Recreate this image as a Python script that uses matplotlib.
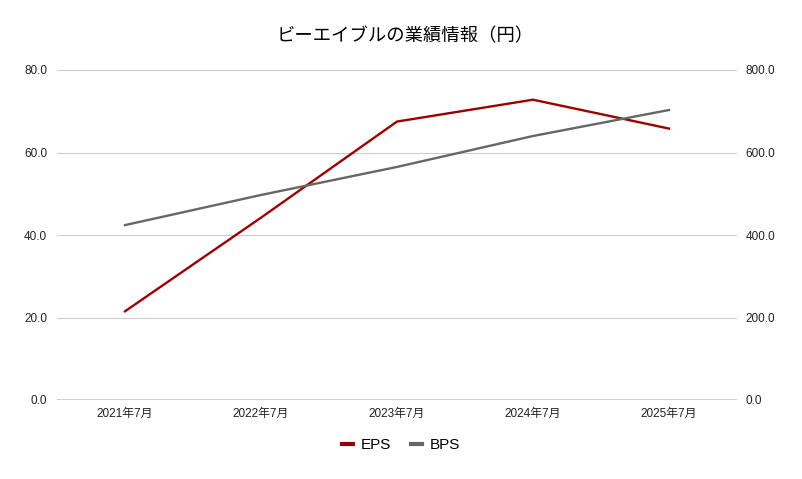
import numpy as np
import matplotlib.pyplot as plt

plt.rcParams['font.family'] = ['Liberation Sans', 'Noto Sans CJK JP', 'DejaVu Sans']

categories = ['2021年7月', '2022年7月', '2023年7月', '2024年7月', '2025年7月']
eps = [21.5, 44.2, 67.5, 72.8, 65.8]
bps = [424, 497, 565, 640, 703]

fig = plt.figure(figsize=(8.02, 4.79), dpi=100)
ax = fig.add_axes([57 / 802, 79 / 479, 680 / 802, 330 / 479])
ax2 = ax.twinx()

x = np.arange(len(categories))
l1, = ax.plot(x, eps, color='#990000', lw=1.7, label='EPS')
l2, = ax2.plot(x, bps, color='#666666', lw=1.7, label='BPS')

ax.set_xlim(-0.5, len(categories) - 0.5)
ax.set_ylim(0, 80)
ax2.set_ylim(0, 800)
ax.set_yticks([0, 20, 40, 60, 80])
ax.set_yticklabels(['%.1f' % v for v in [0, 20, 40, 60, 80]])
ax2.set_yticks([0, 200, 400, 600, 800])
ax2.set_yticklabels(['%.1f' % v for v in [0, 200, 400, 600, 800]])
ax.set_xticks(x)
ax.set_xticklabels(categories)

ax.grid(axis='y', color='#cccccc', lw=0.8)
ax.set_axisbelow(True)
for a in (ax, ax2):
    for s in a.spines.values():
        s.set_visible(False)
    a.tick_params(length=0, labelsize=8.5, colors='#222222')
ax.tick_params(axis='y', pad=7)
ax2.tick_params(axis='y', pad=6)
ax.tick_params(axis='x', pad=6)
ax.axhline(0, color='#222222', lw=1)

fig.suptitle('ビーエイブルの業績情報（円）', x=0.505, y=0.943, fontsize=13.2,
             family=['Noto Sans CJK JP', 'DejaVu Sans'])
leg = fig.legend(handles=[l1, l2], loc='center', bbox_to_anchor=(0.5, 0.07), ncol=2,
                 frameon=False, fontsize=11, handlelength=0.7, columnspacing=1.3,
                 handletextpad=0.5)
for h in leg.legend_handles:
    h.set_linewidth(3)

fig.savefig('out.png', dpi=100)
